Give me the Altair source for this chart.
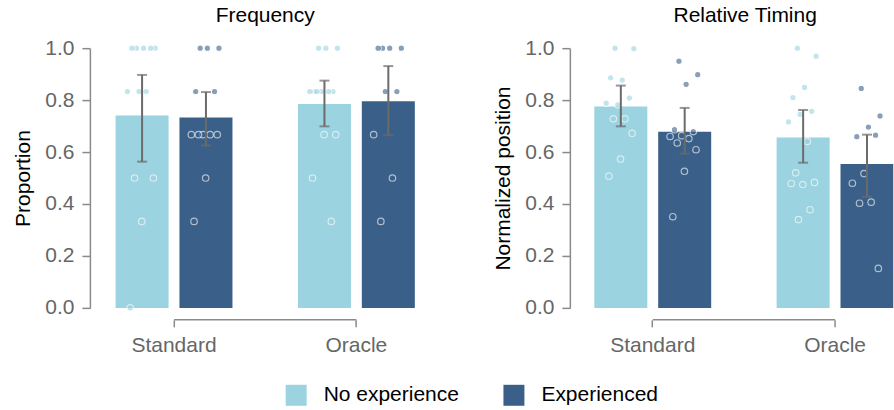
import altair as alt
import pandas as pd

# Categories
conditions = ["Standard", "Oracle"]
groups = ["No experience", "Experienced"]
group_colors = ["#9bd3e0", "#3a6089"]

# Frequency: per-participant proportions
freq_standard_none = [1.0, 1.0, 1.0, 1.0, 1.0, 0.833, 0.833, 0.833, 0.5, 0.5, 0.333, 0.0]
freq_standard_exp = [1.0, 1.0, 1.0, 0.833, 0.833, 0.667, 0.667, 0.667, 0.667, 0.667, 0.5, 0.333]
freq_oracle_none = [1.0, 1.0, 1.0, 0.833, 0.833, 0.833, 0.833, 0.833, 0.833, 0.667, 0.667, 0.5, 0.333]
freq_oracle_exp = [1.0, 1.0, 1.0, 1.0, 0.833, 0.833, 0.667, 0.5, 0.333]

# Relative timing: per-participant normalized positions
timing_standard_none = [1.0, 0.998, 0.877, 0.886, 0.808, 0.782, 0.788, 0.728, 0.728, 0.672, 0.573, 0.507]
timing_standard_exp = [0.950, 0.898, 0.861, 0.686, 0.679, 0.663, 0.660, 0.652, 0.635, 0.609, 0.526, 0.351]
timing_oracle_none = [1.0, 0.969, 0.849, 0.810, 0.757, 0.745, 0.716, 0.641, 0.520, 0.483, 0.475, 0.479, 0.378, 0.340]
timing_oracle_exp = [0.845, 0.739, 0.696, 0.659, 0.665, 0.517, 0.480, 0.407, 0.403, 0.152]

# Bar summaries, order: Standard/No exp, Standard/Exp, Oracle/No exp, Oracle/Exp
freq_means = [0.741, 0.733, 0.785, 0.796]
freq_ci_low = [0.563, 0.625, 0.699, 0.665]
freq_ci_high = [0.897, 0.831, 0.875, 0.931]

timing_means = [0.775, 0.678, 0.656, 0.554]
timing_ci_low = [0.699, 0.594, 0.559, 0.428]
timing_ci_high = [0.856, 0.770, 0.762, 0.667]

FONT = "Liberation Sans"
FS = 21
AXIS_GRAY = "#8a8a8a"
LABEL_GRAY = "#666666"
ERR_GRAY = "#6b6b6b"

PLOT_H = 260
BAND_W = 117  # width of one condition band (two bars + gap)
SUB_CENTERS = {"No experience": 0.2267, "Experienced": 0.7733}


def summary_table(means, lows, highs):
    rows = []
    k = 0
    for c in conditions:
        for g in groups:
            rows.append({"condition": c, "group": g, "mean": means[k], "lo": lows[k], "hi": highs[k]})
            k += 1
    return pd.DataFrame(rows)


def points_table(series):
    rows = []
    for (c, g), vals in series.items():
        for i, v in enumerate(vals):
            j = ((i * 0.618034 + 0.31) % 1.0) - 0.5  # strip-plot jitter
            rows.append({"condition": c, "group": g, "value": v,
                         "pos": SUB_CENTERS[g] + j * 0.26})
    return pd.DataFrame(rows)


# full-width panel, and a right-hand panel whose last bar runs to the page edge
x_scale_full = alt.Scale(domain=conditions, paddingInner=0.359, paddingOuter=0.086)
x_scale_edge = alt.Scale(domain=conditions, paddingInner=0.359, paddingOuter=0.0397, align=1)
off_scale = alt.Scale(domain=groups, paddingInner=0.17, paddingOuter=0)
color_scale = alt.Scale(domain=groups, range=group_colors)

legend = alt.Legend(
    title=None, orient="none", legendX=186, legendY=337, direction="horizontal",
    symbolType="square", symbolSize=441, symbolStrokeWidth=0, symbolOpacity=1,
    labelFontSize=FS, labelColor="black", labelFont=FONT, labelOffset=17,
    columnPadding=44,
)


def panel(title, ytitle, summary, pts, view_w, x_scale, title_dx=0):
    x_enc = alt.X(
        "condition:N", sort=conditions, scale=x_scale,
        axis=alt.Axis(title=None, domain=False, offset=12, tickSize=7, tickColor=AXIS_GRAY,
                      tickWidth=1.5, labelFontSize=FS, labelColor=LABEL_GRAY, labelFont=FONT,
                      labelPadding=8, labelAngle=0),
    )
    x_plain = alt.X("condition:N", sort=conditions, scale=x_scale)
    xo = alt.XOffset("group:N", sort=groups, scale=off_scale)
    y_enc = alt.Y(
        "mean:Q", scale=alt.Scale(domain=[0, 1]),
        axis=alt.Axis(title=ytitle, titleFontSize=FS, titleColor="black", titleFont=FONT,
                      titleFontWeight="normal", titlePadding=11, offset=10,
                      domainColor=AXIS_GRAY, domainWidth=1.5, tickColor=AXIS_GRAY,
                      tickSize=8, tickWidth=1.5, labelFontSize=FS, labelColor=LABEL_GRAY,
                      labelFont=FONT, labelPadding=8, values=[0, 0.2, 0.4, 0.6, 0.8, 1.0],
                      format=".1f", grid=False),
    )

    bars = alt.Chart(summary).mark_bar(clip=True).encode(
        x=x_enc, xOffset=xo, y=y_enc,
        color=alt.Color("group:N", sort=groups, scale=color_scale, legend=legend),
    )
    err = alt.Chart(summary).mark_rule(color=ERR_GRAY, strokeWidth=2).encode(
        x=x_plain, xOffset=xo, y="lo:Q", y2="hi:Q"
    )
    cap_lo = alt.Chart(summary).mark_tick(color=ERR_GRAY, thickness=2, size=10,
                                          orient="horizontal").encode(x=x_plain, xOffset=xo, y="lo:Q")
    cap_hi = alt.Chart(summary).mark_tick(color=ERR_GRAY, thickness=2, size=10,
                                          orient="horizontal").encode(x=x_plain, xOffset=xo, y="hi:Q")
    dots = alt.Chart(pts).mark_circle(size=42, opacity=0.6, stroke="white", strokeWidth=1.2).encode(
        x=x_plain,
        xOffset=alt.XOffset("pos:Q", scale=alt.Scale(domain=[0, 1], range=[0, BAND_W])),
        y="value:Q",
        fill=alt.Fill("group:N", sort=groups, scale=color_scale, legend=None),
    )
    axis_line = alt.Chart(pd.DataFrame({"a": ["Standard"], "b": ["Oracle"]})).mark_rule(
        color=AXIS_GRAY, strokeWidth=1.5
    ).encode(x=alt.X("a:N", scale=x_scale), x2="b:N", y=alt.value(PLOT_H + 12))

    return alt.layer(bars, dots, err, cap_lo, cap_hi, axis_line).resolve_scale(
        xOffset="independent"
    ).properties(
        width=view_w, height=PLOT_H,
        title=alt.Title(title, fontSize=FS, fontWeight="normal", color="black", font=FONT,
                        anchor="middle", offset=11, dx=title_dx),
    )


freq_pts = points_table({
    ("Standard", "No experience"): freq_standard_none,
    ("Standard", "Experienced"): freq_standard_exp,
    ("Oracle", "No experience"): freq_oracle_none,
    ("Oracle", "Experienced"): freq_oracle_exp,
})
timing_pts = points_table({
    ("Standard", "No experience"): timing_standard_none,
    ("Standard", "Experienced"): timing_standard_exp,
    ("Oracle", "No experience"): timing_oracle_none,
    ("Oracle", "Experienced"): timing_oracle_exp,
})

left = panel("Frequency", "Proportion", summary_table(freq_means, freq_ci_low, freq_ci_high),
             freq_pts, 331, x_scale_full)
right = panel("Relative Timing", "Normalized position",
              summary_table(timing_means, timing_ci_low, timing_ci_high), timing_pts,
              314, x_scale_edge, title_dx=8.5)

chart = alt.hconcat(left, right, spacing=61.5).properties(
    padding={"left": 12, "top": 5, "right": 0, "bottom": 0}
).configure(font=FONT).configure_view(stroke=None)

chart.save("out.html", embed_options={"renderer": "svg", "actions": False})
